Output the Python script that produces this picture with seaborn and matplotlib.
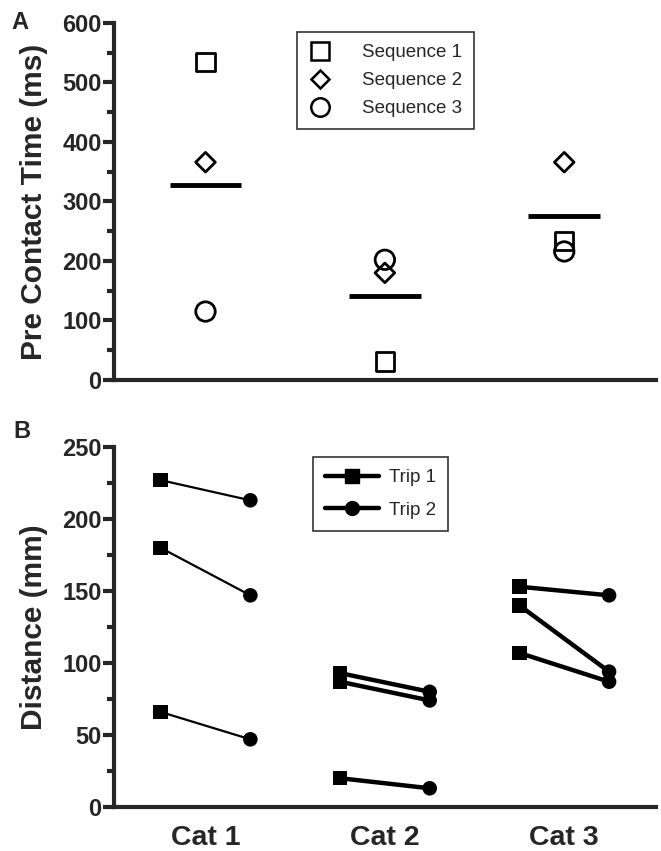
import pandas as pd
import seaborn as sns
import matplotlib.pyplot as plt
from matplotlib.lines import Line2D
from matplotlib.ticker import MultipleLocator

# Panel A data: pre contact time (ms)
categories = ["Cat 1", "Cat 2", "Cat 3"]
seq1 = [534, 31, 233]
seq2 = [366, 180, 366]
seq3 = [115, 202, 216]
means_a = [327, 141, 275]

# Panel B data: distance (mm), three pairs per cat
pair_cat = ["Cat 1", "Cat 1", "Cat 1", "Cat 2", "Cat 2", "Cat 2", "Cat 3", "Cat 3", "Cat 3"]
trip1 = [227, 180, 66, 93, 87, 20, 153, 140, 107]
trip2 = [213, 147, 47, 80, 74, 13, 147, 94, 87]

sns.set_style("ticks")
plt.rcParams['font.family'] = ['Liberation Sans', 'DejaVu Sans']

fig = plt.figure(figsize=(6.61, 8.51), dpi=100)
axA = fig.add_axes([0.1725, 0.5535, 0.8195, 0.4195])
axB = fig.add_axes([0.1725, 0.0517, 0.8195, 0.4230])

pos = {c: i for i, c in enumerate(categories)}

# ---- Panel A ----
dfA = pd.DataFrame({
    "x": [pos[c] for c in categories] * 3,
    "y": seq1 + seq2 + seq3,
    "seq": ["Sequence 1"] * 3 + ["Sequence 2"] * 3 + ["Sequence 3"] * 3,
})
mk = {"Sequence 1": ("s", 13), "Sequence 2": ("D", 10), "Sequence 3": ("o", 14)}
for name, (m, ms) in mk.items():
    sub = dfA[dfA["seq"] == name]
    sns.scatterplot(data=sub, x="x", y="y", marker=m, s=(ms * 1.0) ** 2,
                    facecolor="none", edgecolor="black", linewidth=2,
                    ax=axA, zorder=3)
for i, m in enumerate(means_a):
    axA.hlines(m, i - 0.2, i + 0.2, color="black", linewidth=3.5)

handles = [Line2D([], [], marker=m, ms=ms * 0.95, mfc="none", mec="black", mew=1.8,
                  ls="none", label=name) for name, (m, ms) in mk.items()]
legA = axA.legend(handles=handles, loc="upper left", bbox_to_anchor=(0.3376, 0.975),
                  borderaxespad=0, fontsize=13.5, frameon=True, fancybox=False,
                  edgecolor="black", handlelength=1.2, handletextpad=1.6,
                  labelspacing=0.58, borderpad=0.65)
legA.get_frame().set_linewidth(1.2)

axA.set_ylim(0, 600)
axA.set_xlim(-0.51, 2.51)
axA.yaxis.set_major_locator(MultipleLocator(100))
axA.yaxis.set_minor_locator(MultipleLocator(50))
axA.set_xticks([])
axA.set_xlabel("")
axA.set_ylabel("Pre Contact Time (ms)", fontsize=21.5, fontweight="bold", labelpad=10)

# ---- Panel B ----
rows = []
for k, c in enumerate(pair_cat):
    rows.append({"pair": k, "cat": c, "trip": "Trip 1", "x": pos[c] - 0.25, "y": trip1[k]})
    rows.append({"pair": k, "cat": c, "trip": "Trip 2", "x": pos[c] + 0.25, "y": trip2[k]})
dfB = pd.DataFrame(rows)
lw = {"Cat 1": 1.6, "Cat 2": 3.2, "Cat 3": 3.2}
for c in categories:
    sub = dfB[dfB["cat"] == c]
    sns.lineplot(data=sub, x="x", y="y", units="pair", estimator=None,
                 color="black", linewidth=lw[c], ax=axB)
sns.scatterplot(data=dfB, x="x", y="y", style="trip",
                markers={"Trip 1": "s", "Trip 2": "o"}, s=110,
                color="black", edgecolor="black", linewidth=0, ax=axB,
                legend=False, zorder=3)
handlesB = [Line2D([], [], color="black", lw=3.2, marker="s", ms=10, label="Trip 1"),
            Line2D([], [], color="black", lw=3.2, marker="o", ms=10, label="Trip 2")]
legB = axB.legend(handles=handlesB, loc="upper left", bbox_to_anchor=(0.367, 0.972),
                  borderaxespad=0, fontsize=13.5, frameon=True, fancybox=False,
                  edgecolor="black", handlelength=2.9, handletextpad=0.5,
                  labelspacing=0.8, borderpad=0.65)
legB.get_frame().set_linewidth(1.2)

axB.set_ylim(0, 250)
axB.set_xlim(-0.51, 2.51)
axB.yaxis.set_major_locator(MultipleLocator(50))
axB.yaxis.set_minor_locator(MultipleLocator(25))
axB.set_xticks(range(len(categories)))
axB.set_xticklabels(categories)
axB.set_xlabel("")
axB.set_ylabel("Distance (mm)", fontsize=21.5, fontweight="bold", labelpad=10)

for ax in (axA, axB):
    sns.despine(ax=ax)
    for s in ("left", "bottom"):
        ax.spines[s].set_linewidth(3)
    ax.tick_params(axis="y", which="major", length=8, width=3, labelsize=17, pad=1)
    ax.tick_params(axis="y", which="minor", length=5, width=3)
    ax.tick_params(axis="x", length=0, labelsize=20.5, pad=13)
    for t in ax.get_yticklabels() + ax.get_xticklabels():
        t.set_fontweight("bold")

fig.text(0.018, 0.966, "A", fontsize=17, fontweight="bold")
fig.text(0.02, 0.485, "B", fontsize=17, fontweight="bold")

fig.savefig("out.png", dpi=100)
